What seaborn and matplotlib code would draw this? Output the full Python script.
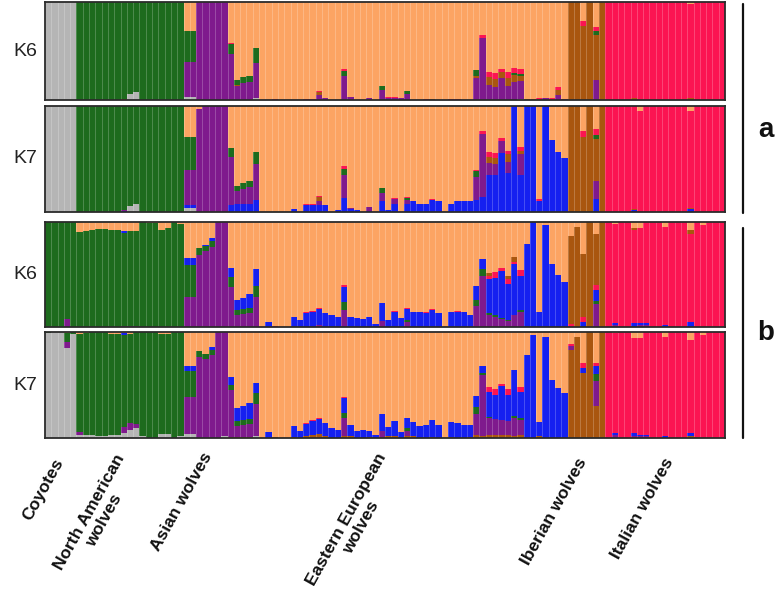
import numpy as np
import pandas as pd
import matplotlib
matplotlib.use("Agg")
import matplotlib.pyplot as plt
import seaborn as sns

# ---------------- data ----------------
pop_codes = ["COY", "NA", "ASIA", "EE", "IB", "IT"]
pop_labels = ["Coyotes", "North American\nwolves", "Asian wolves",
              "Eastern European\nwolves", "Iberian wolves", "Italian wolves"]
pop_sizes = [5, 17, 7, 54, 6, 19]

clusters = ["gray", "green", "orange", "purple", "blue", "brown", "red"]
palette = {"gray": "#b5b5b5", "green": "#1d6b1d", "orange": "#fca463",
           "purple": "#7f1a8d", "blue": "#1520f0", "brown": "#a9560f",
           "red": "#fb1452"}

panel_names = ["K6", "K7", "K6", "K7"]

# majority cluster of each population, per panel
aK6_major = ["gray", "green", "purple", "orange", "brown", "red"]
aK7_major = ["gray", "green", "purple", "orange", "brown", "red"]
bK6_major = ["green", "green", "purple", "orange", "brown", "red"]
bK7_major = ["gray", "green", "purple", "orange", "brown", "red"]

# stacking order, bottom -> top
aK6_stack = ["gray", "purple", "brown", "green", "blue", "red", "orange"]
aK7_stack = ["gray", "blue", "purple", "brown", "green", "red", "orange"]
bK6_stack = ["gray", "purple", "green", "blue", "red", "brown", "orange"]
bK7_stack = ["gray", "brown", "purple", "green", "blue", "red", "orange"]

# minor ancestry proportions (population, individual) -> {cluster: q}
aK6_admix = {
    ("NA", 7): dict(brown=.015), ("NA", 8): dict(gray=.06), ("NA", 9): dict(gray=.08),
    ("ASIA", 0): dict(orange=.30, green=.31, gray=.03),
    ("ASIA", 1): dict(orange=.30, green=.31, gray=.03),
    ("EE", 0): dict(purple=.47, green=.10, red=.01),
    ("EE", 1): dict(purple=.14, brown=.01, green=.05),
    ("EE", 2): dict(purple=.17, green=.06),
    ("EE", 3): dict(purple=.18, green=.06),
    ("EE", 4): dict(purple=.36, green=.15, gray=.02),
    ("EE", 7): dict(red=.01), ("EE", 12): dict(red=.01), ("EE", 13): dict(red=.01),
    ("EE", 14): dict(purple=.05, brown=.03, red=.01),
    ("EE", 15): dict(purple=.02),
    ("EE", 18): dict(purple=.24, green=.06, red=.02),
    ("EE", 19): dict(purple=.03), ("EE", 22): dict(purple=.02),
    ("EE", 24): dict(purple=.10, green=.04),
    ("EE", 25): dict(purple=.02, red=.01), ("EE", 26): dict(purple=.02, red=.01),
    ("EE", 27): dict(purple=.02),
    ("EE", 28): dict(purple=.06, green=.03),
    ("EE", 31): dict(red=.01), ("EE", 32): dict(brown=.01),
    ("EE", 35): dict(red=.01), ("EE", 36): dict(red=.01),
    ("EE", 39): dict(purple=.22, brown=.02, green=.07),
    ("EE", 40): dict(purple=.63, red=.03),
    ("EE", 41): dict(purple=.15, brown=.08, red=.06),
    ("EE", 42): dict(purple=.13, brown=.08, red=.07),
    ("EE", 43): dict(purple=.22, brown=.07, red=.03),
    ("EE", 44): dict(purple=.14, brown=.08, red=.07),
    ("EE", 45): dict(purple=.18, brown=.08, green=.02, red=.05),
    ("EE", 46): dict(purple=.18, brown=.06, green=.02, red=.05, gray=.01),
    ("EE", 47): dict(brown=.01), ("EE", 48): dict(brown=.01),
    ("EE", 49): dict(brown=.01, red=.01), ("EE", 50): dict(purple=.02),
    ("EE", 51): dict(brown=.01, red=.01),
    ("EE", 52): dict(purple=.05, brown=.05, red=.03), ("EE", 53): dict(purple=.01),
    ("IB", 2): dict(orange=.19, red=.05),
    ("IB", 4): dict(orange=.25, red=.05, green=.04, purple=.20),
    ("IT", 4): dict(brown=.02), ("IT", 13): dict(brown=.02, orange=.02),
}

aK7_admix = {
    ("NA", 7): dict(blue=.01, purple=.01), ("NA", 8): dict(gray=.06), ("NA", 9): dict(gray=.08),
    ("ASIA", 0): dict(orange=.29, green=.31, blue=.03, gray=.04),
    ("ASIA", 1): dict(orange=.29, green=.31, blue=.03, gray=.04),
    ("ASIA", 2): dict(orange=.03),
    ("EE", 0): dict(blue=.07, purple=.45, green=.08),
    ("EE", 1): dict(blue=.08, purple=.12, green=.05),
    ("EE", 2): dict(blue=.08, purple=.14, green=.05),
    ("EE", 3): dict(blue=.08, purple=.16, green=.05),
    ("EE", 4): dict(blue=.11, purple=.34, green=.12),
    ("EE", 10): dict(blue=.03),
    ("EE", 12): dict(blue=.07, red=.01), ("EE", 13): dict(blue=.07, red=.01),
    ("EE", 14): dict(blue=.07, purple=.03, brown=.04, red=.01),
    ("EE", 15): dict(blue=.07), ("EE", 17): dict(blue=.02),
    ("EE", 18): dict(blue=.13, purple=.22, green=.06, red=.02),
    ("EE", 19): dict(blue=.03, purple=.01), ("EE", 20): dict(blue=.02),
    ("EE", 22): dict(purple=.04, blue=.01),
    ("EE", 24): dict(blue=.10, purple=.08, green=.05),
    ("EE", 25): dict(blue=.02),
    ("EE", 26): dict(blue=.08, purple=.04, red=.01),
    ("EE", 28): dict(blue=.08, purple=.03, green=.02, red=.01),
    ("EE", 29): dict(blue=.10), ("EE", 30): dict(blue=.08), ("EE", 31): dict(blue=.08),
    ("EE", 32): dict(blue=.11, red=.01), ("EE", 33): dict(blue=.10),
    ("EE", 35): dict(blue=.08), ("EE", 36): dict(blue=.10),
    ("EE", 37): dict(blue=.10), ("EE", 38): dict(blue=.10),
    ("EE", 39): dict(blue=.11, purple=.22, green=.06, red=.01),
    ("EE", 40): dict(blue=.14, purple=.60, red=.02),
    ("EE", 41): dict(blue=.35, purple=.11, brown=.06, red=.05),
    ("EE", 42): dict(blue=.35, purple=.10, brown=.06, red=.05),
    ("EE", 43): dict(blue=.56, purple=.11, red=.03),
    ("EE", 44): dict(blue=.37, purple=.10, brown=.08, red=.03),
    ("EE", 45): dict(blue=1.0),
    ("EE", 46): dict(blue=.35, purple=.20, brown=.03, red=.03),
    ("EE", 47): dict(blue=1.0), ("EE", 48): dict(blue=1.0),
    ("EE", 49): dict(blue=.10, red=.02), ("EE", 50): dict(blue=1.0),
    ("EE", 51): dict(blue=.68), ("EE", 52): dict(blue=.57), ("EE", 53): dict(blue=.51),
    ("IB", 2): dict(orange=.24, red=.05),
    ("IB", 4): dict(orange=.22, red=.05, green=.04, purple=.17, blue=.12),
    ("IT", 4): dict(blue=.02, brown=.01), ("IT", 5): dict(orange=.05),
    ("IT", 13): dict(blue=.03, brown=.01, orange=.05),
}

bK6_admix = {
    ("COY", 3): dict(purple=.08),
    ("NA", 0): dict(orange=.095), ("NA", 1): dict(orange=.085), ("NA", 2): dict(orange=.08),
    ("NA", 3): dict(orange=.07), ("NA", 4): dict(orange=.065), ("NA", 5): dict(orange=.075),
    ("NA", 6): dict(orange=.08), ("NA", 7): dict(orange=.085, blue=.02, purple=.01),
    ("NA", 8): dict(orange=.09, purple=.01), ("NA", 9): dict(orange=.09, purple=.01),
    ("NA", 11): dict(orange=.01), ("NA", 12): dict(orange=.01),
    ("NA", 13): dict(orange=.08), ("NA", 14): dict(orange=.06), ("NA", 16): dict(orange=.02),
    ("ASIA", 0): dict(orange=.345, blue=.065, green=.30),
    ("ASIA", 1): dict(orange=.345, blue=.065, green=.30),
    ("ASIA", 2): dict(orange=.25, green=.06),
    ("ASIA", 3): dict(orange=.22, green=.05, blue=.01),
    ("ASIA", 4): dict(orange=.15, blue=.03, green=.06),
    ("EE", 0): dict(purple=.38, green=.10, blue=.08),
    ("EE", 1): dict(purple=.11, green=.05, blue=.10),
    ("EE", 2): dict(purple=.12, green=.05, blue=.11),
    ("EE", 3): dict(purple=.13, green=.05, blue=.13),
    ("EE", 4): dict(purple=.29, green=.10, blue=.16),
    ("EE", 6): dict(blue=.05), ("EE", 7): dict(red=.01),
    ("EE", 10): dict(blue=.10), ("EE", 11): dict(blue=.07),
    ("EE", 12): dict(blue=.13, red=.01), ("EE", 13): dict(blue=.14, red=.01),
    ("EE", 14): dict(blue=.15, purple=.02, red=.01),
    ("EE", 15): dict(blue=.13), ("EE", 16): dict(blue=.11), ("EE", 17): dict(blue=.10),
    ("EE", 18): dict(purple=.16, green=.08, blue=.14, red=.02),
    ("EE", 19): dict(blue=.10), ("EE", 20): dict(blue=.09), ("EE", 21): dict(blue=.08),
    ("EE", 22): dict(blue=.10), ("EE", 23): dict(blue=.03),
    ("EE", 24): dict(purple=.06, blue=.17), ("EE", 25): dict(blue=.07),
    ("EE", 26): dict(blue=.14, red=.01), ("EE", 27): dict(blue=.09),
    ("EE", 28): dict(purple=.05, green=.02, blue=.10, red=.01),
    ("EE", 29): dict(blue=.14), ("EE", 30): dict(blue=.14),
    ("EE", 31): dict(blue=.13, red=.01), ("EE", 32): dict(blue=.16, red=.01),
    ("EE", 33): dict(blue=.13), ("EE", 35): dict(blue=.14),
    ("EE", 36): dict(blue=.14, red=.01), ("EE", 37): dict(blue=.14), ("EE", 38): dict(blue=.11),
    ("EE", 39): dict(purple=.20, green=.06, blue=.13),
    ("EE", 40): dict(purple=.49, green=.06, blue=.10),
    ("EE", 41): dict(purple=.11, green=.02, blue=.33, red=.03, brown=.02),
    ("EE", 42): dict(purple=.10, green=.01, blue=.36, red=.05),
    ("EE", 43): dict(purple=.08, green=.01, blue=.44, red=.03),
    ("EE", 44): dict(purple=.06, green=.01, blue=.34, red=.05, brown=.03),
    ("EE", 45): dict(purple=.11, blue=.49, red=.02, brown=.05),
    ("EE", 46): dict(purple=.14, green=.02, blue=.33, red=.05),
    ("EE", 47): dict(blue=.79), ("EE", 48): dict(blue=1.0), ("EE", 49): dict(blue=.14),
    ("EE", 50): dict(blue=.97), ("EE", 51): dict(blue=.60),
    ("EE", 52): dict(blue=.50), ("EE", 53): dict(blue=.43),
    ("IB", 0): dict(orange=.13, red=.03), ("IB", 1): dict(orange=.05),
    ("IB", 2): dict(orange=.30, red=.05, blue=.05),
    ("IB", 4): dict(orange=.11, red=.05, blue=.10, green=.03, purple=.22),
    ("IT", 1): dict(orange=.02, blue=.02, purple=.02),
    ("IT", 4): dict(orange=.06, brown=.02, blue=.04),
    ("IT", 5): dict(orange=.06, blue=.02, purple=.02),
    ("IT", 6): dict(blue=.02, purple=.02),
    ("IT", 9): dict(orange=.05, blue=.02),
    ("IT", 13): dict(orange=.08, brown=.03, blue=.05),
    ("IT", 15): dict(orange=.03),
}

bK7_admix = {
    ("COY", 0): dict(green=.01), ("COY", 3): dict(purple=.06, green=.08, orange=.01),
    ("COY", 4): dict(green=.02),
    ("NA", 0): dict(gray=.03, purple=.03, orange=.015), ("NA", 1): dict(gray=.03, orange=.01),
    ("NA", 2): dict(gray=.03), ("NA", 3): dict(gray=.02), ("NA", 4): dict(gray=.02),
    ("NA", 5): dict(gray=.03, orange=.015), ("NA", 6): dict(gray=.03, orange=.015),
    ("NA", 7): dict(gray=.05, purple=.05, blue=.02, orange=.01),
    ("NA", 8): dict(gray=.08, purple=.06, orange=.02), ("NA", 9): dict(gray=.09, purple=.04),
    ("NA", 10): dict(gray=.02), ("NA", 13): dict(gray=.04, orange=.02),
    ("NA", 14): dict(gray=.04, orange=.02), ("NA", 16): dict(gray=.02),
    ("ASIA", 0): dict(orange=.32, blue=.05, green=.24, gray=.04),
    ("ASIA", 1): dict(orange=.32, blue=.05, green=.24, gray=.04),
    ("ASIA", 2): dict(orange=.18, green=.06), ("ASIA", 3): dict(orange=.21, green=.04),
    ("ASIA", 4): dict(orange=.14, blue=.03, green=.05), ("ASIA", 6): dict(gray=.02),
    ("EE", 0): dict(brown=.01, purple=.44, green=.05, blue=.08),
    ("EE", 1): dict(purple=.10, green=.05, blue=.12, brown=.01),
    ("EE", 2): dict(purple=.11, green=.05, blue=.13, brown=.01),
    ("EE", 3): dict(purple=.12, green=.05, blue=.15, brown=.01),
    ("EE", 4): dict(gray=.02, purple=.30, green=.10, blue=.10),
    ("EE", 6): dict(blue=.06), ("EE", 7): dict(brown=.01),
    ("EE", 10): dict(blue=.10, brown=.01), ("EE", 11): dict(blue=.07),
    ("EE", 12): dict(blue=.11, brown=.02, red=.01),
    ("EE", 13): dict(blue=.13, brown=.03, red=.01),
    ("EE", 14): dict(blue=.14, brown=.04, red=.01),
    ("EE", 15): dict(blue=.12, brown=.02), ("EE", 16): dict(blue=.09), ("EE", 17): dict(blue=.08),
    ("EE", 18): dict(brown=.02, purple=.17, green=.05, blue=.14, red=.01),
    ("EE", 19): dict(blue=.10, brown=.02), ("EE", 20): dict(blue=.07),
    ("EE", 21): dict(blue=.08), ("EE", 22): dict(blue=.06, brown=.01), ("EE", 23): dict(blue=.03),
    ("EE", 24): dict(purple=.06, blue=.16, brown=.01),
    ("EE", 25): dict(blue=.08, brown=.02), ("EE", 26): dict(blue=.14, brown=.02),
    ("EE", 27): dict(blue=.06),
    ("EE", 28): dict(brown=.02, purple=.05, green=.02, blue=.10),
    ("EE", 29): dict(blue=.13, brown=.02), ("EE", 30): dict(blue=.11),
    ("EE", 31): dict(blue=.12), ("EE", 32): dict(blue=.16, brown=.01),
    ("EE", 33): dict(blue=.12), ("EE", 35): dict(blue=.14, brown=.01),
    ("EE", 36): dict(blue=.14), ("EE", 37): dict(blue=.12), ("EE", 38): dict(blue=.11, brown=.01),
    ("EE", 39): dict(brown=.03, purple=.20, green=.06, blue=.11),
    ("EE", 40): dict(brown=.02, purple=.57, green=.02, blue=.07),
    ("EE", 41): dict(brown=.03, purple=.16, green=.01, blue=.23, red=.05),
    ("EE", 42): dict(brown=.03, purple=.15, blue=.23, red=.05),
    ("EE", 43): dict(brown=.03, purple=.14, blue=.32, red=.02),
    ("EE", 44): dict(brown=.03, purple=.13, blue=.25, red=.05),
    ("EE", 45): dict(brown=.02, purple=.17, green=.02, blue=.43),
    ("EE", 46): dict(brown=.03, purple=.14, green=.02, blue=.24, red=.05),
    ("EE", 47): dict(blue=.78), ("EE", 48): dict(blue=.97),
    ("EE", 49): dict(blue=.13, brown=.02), ("EE", 50): dict(blue=.95),
    ("EE", 51): dict(blue=.55), ("EE", 52): dict(blue=.47), ("EE", 53): dict(blue=.42),
    ("IB", 0): dict(orange=.11, purple=.04, red=.02), ("IB", 1): dict(orange=.05),
    ("IB", 2): dict(orange=.29, red=.05, blue=.05),
    ("IB", 4): dict(orange=.29, red=.03, blue=.08, green=.06, purple=.24),
    ("IT", 1): dict(orange=.01, purple=.03, blue=.02),
    ("IT", 4): dict(orange=.06, blue=.03, purple=.02),
    ("IT", 5): dict(orange=.06, purple=.02, blue=.01),
    ("IT", 6): dict(purple=.02, blue=.01),
    ("IT", 9): dict(orange=.05, blue=.02),
    ("IT", 13): dict(orange=.08, brown=.02, blue=.03),
    ("IT", 14): dict(brown=.01), ("IT", 15): dict(orange=.03),
}

panels = [(aK6_major, aK6_admix, aK6_stack),
          (aK7_major, aK7_admix, aK7_stack),
          (bK6_major, bK6_admix, bK6_stack),
          (bK7_major, bK7_admix, bK7_stack)]


def build_q(major, admix):
    rows = []
    g = 0
    for p, (code, n) in enumerate(zip(pop_codes, pop_sizes)):
        for k in range(n):
            minor = admix.get((code, k), {})
            comp = {c: 0.0 for c in clusters}
            comp.update(minor)
            comp[major[p]] += max(0.0, 1.0 - sum(minor.values()))
            for c, v in comp.items():
                rows.append((g, c, v))
            g += 1
    return pd.DataFrame(rows, columns=["ind", "cluster", "q"])


# ---------------- figure ----------------
W, H = 783, 595
sns.set_theme(style="white")
plt.rcParams["font.family"] = ["Liberation Sans", "DejaVu Sans"]
fig = plt.figure(figsize=(W / 100, H / 100), dpi=100)


def fx(x):
    return x / W


def fy(y):
    return 1 - y / H


x0, x1 = 45, 725
panel_y = [(2, 100), (106, 212), (222, 327), (332, 438)]
n_ind = sum(pop_sizes)

for (major, admix, stack), (ya, yb), kname in zip(panels, panel_y, panel_names):
    ax = fig.add_axes([fx(x0), fy(yb), (x1 - x0) / W, (yb - ya) / H])
    df = build_q(major, admix)
    sns.histplot(data=df, x="ind", weights="q", hue="cluster",
                 hue_order=stack[::-1], palette=palette, multiple="stack",
                 discrete=True, shrink=1, element="bars", fill=True,
                 alpha=1, linewidth=0, legend=False, ax=ax)
    ax.vlines(np.arange(1, n_ind) - 0.5, 0, 1, color="white", alpha=0.22, lw=0.7)
    ax.set_xlim(-0.5, n_ind - 0.5)
    ax.set_ylim(0, 1)
    ax.set_xticks([])
    ax.set_yticks([])
    ax.set_xlabel("")
    ax.set_ylabel("")
    for s in ax.spines.values():
        s.set_visible(True)
        s.set_color("#2b2b2b")
        s.set_linewidth(1.3)
    fig.text(fx(25), fy((ya + yb) / 2), kname, ha="center", va="center",
             fontsize=14, color="#222222")

# right-side brackets
for (ya, yb), lab, ly in [((4, 213), "a", 130), ((228, 438), "b", 333)]:
    fig.add_artist(plt.Line2D([fx(743), fx(743)], [fy(ya), fy(yb)],
                              color="#111111", lw=1.6))
    fig.text(fx(766), fy(ly), lab, ha="center", va="center", fontsize=20,
             fontweight="bold", color="#111111")

# population labels
label_pos = [(66, 456), (142, 452), (215, 450), (404, 451), (590, 455), (676, 455)]
for lab, (lx, ly) in zip(pop_labels, label_pos):
    fig.text(fx(lx), fy(ly), lab, rotation=61, ha="right", va="top",
             multialignment="center", fontsize=12.5, fontweight="bold",
             color="#111111", linespacing=1.15)

fig.savefig("out.png", dpi=100)
